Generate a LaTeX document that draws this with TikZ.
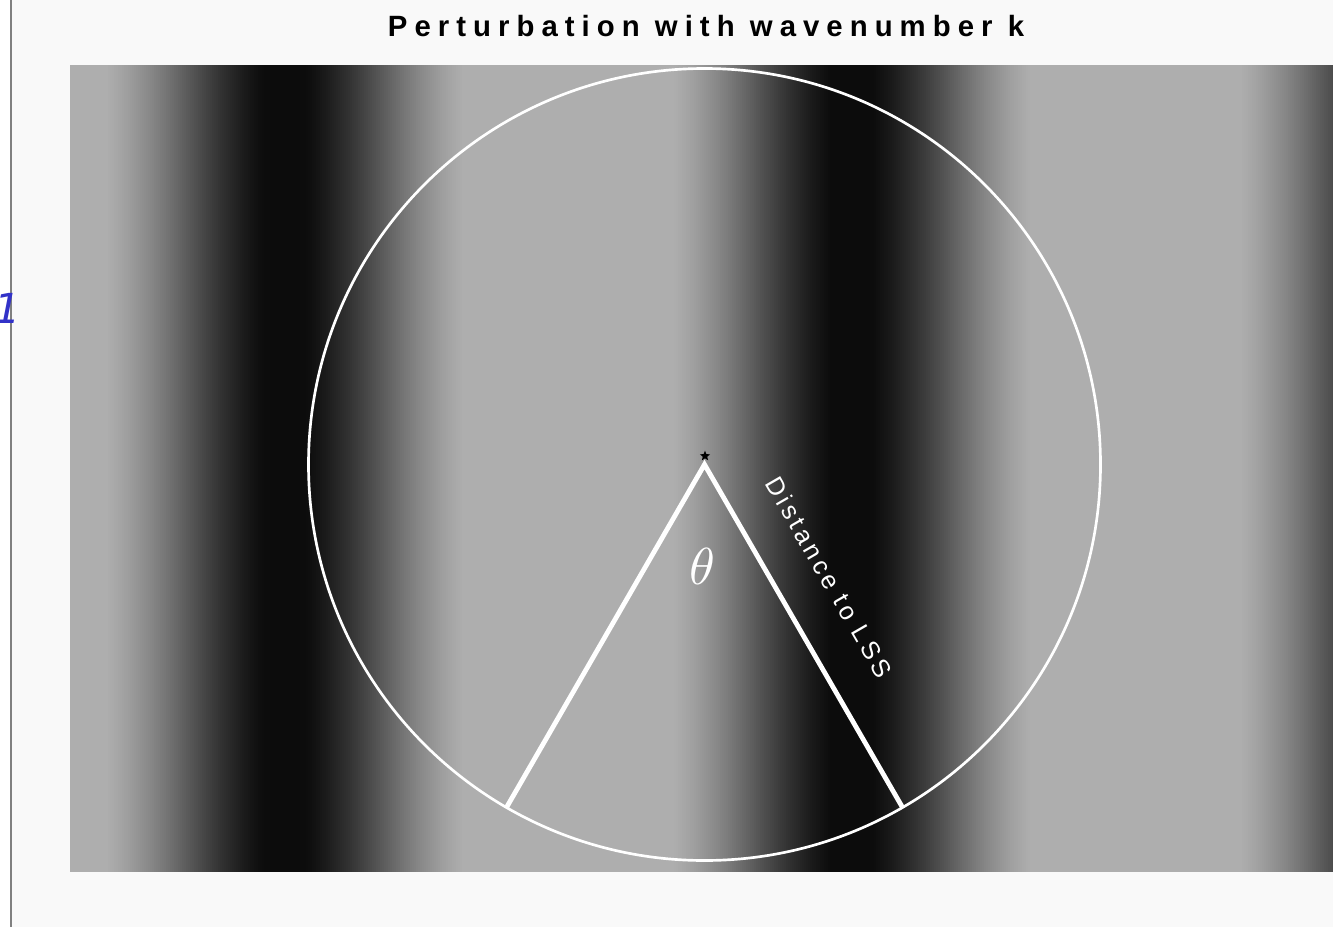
\documentclass[tikz,border=0pt]{standalone}
\usepackage{fontspec}
\usetikzlibrary{shapes.geometric,calc}
\newfontfamily\titlefont{Liberation Sans}[LetterSpace=24]
\newfontfamily\labelfont{Liberation Sans}[LetterSpace=15]
\newfontfamily\onefont{DejaVu Sans}
\definecolor{bgc}{RGB}{249,249,249}
\definecolor{sidegray}{RGB}{128,128,128}
\definecolor{numblue}{RGB}{50,50,200}
\tikzset{
  ring/.style={draw=white, line width=2pt},
  ray/.style={draw=white, line width=3.6pt, line join=miter},
  starmark/.style={star, star points=5, star point ratio=2.3, fill=black, inner sep=0pt, minimum size=8pt},
}
\begin{document}
\begin{tikzpicture}[x=0.75pt,y=-0.75pt]
\useasboundingbox (0,0) rectangle (1333,927);
\fill[white] (0,0) rectangle (1333,927);
\fill[bgc] (12,0) rectangle (1333,927);
% striped perturbation image
\foreach \i in {0,...,631}{
  \pgfmathsetmacro\xx{70+2*\i}
  \pgfmathsetmacro\dd{mod(\xx+1-285+1134,567)}
  \pgfmathsetmacro\dd{min(\dd,567-\dd)}
  \pgfmathsetmacro\tt{max(0,min(1,(\dd-20)/158))}
  \pgfmathtruncatemacro\v{12+162*(0.6*\tt+0.2*(1-cos(180*\tt)))}
  \definecolor{stripe}{RGB}{\v,\v,\v}
  \fill[stripe] (\xx,65) rectangle ({\xx+2.4},872);
}
\draw[sidegray, line width=2.2pt] (11,0) -- (11,927);
% title
\node[anchor=base, inner sep=0pt] (title) at (706,37)
  {\titlefont\bfseries\fontsize{22}{26}\selectfont Perturbation with wavenumber k};
% blue number
\node[anchor=base east, inner sep=0pt, text=numblue] (one) at (21,323)
  {\onefont\itshape\fontsize{31}{31}\selectfont 1};
% geometry
\coordinate (c) at (704.5,464.5);
\coordinate (a) at ($(c)+(120:396)$);
\coordinate (b) at ($(c)+(60:396)$);
\draw[ring] (c) circle[radius=396];
\draw[ray] (a) -- (c) -- (b);
\node[starmark] (st) at (705,456) {};
\node[inner sep=0pt, text=white] (theta) at (702,566)
  {\scalebox{3.9}{$\theta$}};
\node[rotate=-60, inner sep=0pt, text=white] (dist) at (829,577)
  {\labelfont\fontsize{19}{22}\selectfont Distance to LSS};
\end{tikzpicture}
\end{document}
